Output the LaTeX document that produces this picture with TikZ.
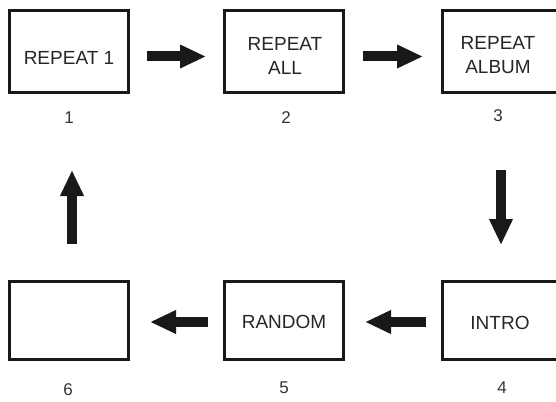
\documentclass[tikz,border=0pt]{standalone}
\usepackage{fontspec}
\setmainfont{Liberation Sans}
\usetikzlibrary{arrows.meta}
\tikzset{
  boxnode/.style={draw=black!90, line width=3pt, minimum width=119pt, inner sep=0pt},
  rowone/.style={boxnode, minimum height=82pt},
  rowtwo/.style={boxnode, minimum height=78pt},
  txt/.style={font=\fontsize{19}{24}\selectfont, align=center, inner sep=0pt, text=black!85},
  num/.style={font=\fontsize{17}{20}\selectfont, inner sep=0pt, text=black!80},
  bigarrow/.style={line width=10pt, draw=black!90, -{Triangle[width=22pt,length=26pt]}}
}
\begin{document}
\begin{tikzpicture}[x=1pt,y=-1pt]
\useasboundingbox (0,0) rectangle (556,401);
\clip (0,0) rectangle (556,401);
% boxes
\node[rowone] (b1) at (69,51.5) {};
\node[rowone] (b2) at (284,51.5) {};
\node[rowone] (b3) at (502,51.5) {};
\node[rowtwo] (b4) at (502,320.5) {};
\node[rowtwo] (b5) at (284,320.5) {};
\node[rowtwo] (b6) at (69,320.5) {};
% texts
\node[txt] (t1) at ([yshift=-6pt]b1.center) {REPEAT 1};
\node[txt] (t2) at ([yshift=-4pt,xshift=1pt]b2.center) {REPEAT\\ALL};
\node[txt] (t3) at ([yshift=-4pt,xshift=-4pt]b3.center) {REPEAT\\ALBUM};
\node[txt] (t4) at ([yshift=-2pt,xshift=-2pt]b4.center) {INTRO};
\node[txt] (t5) at ([yshift=-1.5pt]b5.center) {RANDOM};
% numbers
\node[num] (n1) at (69,118) {1};
\node[num] (n2) at (286,118) {2};
\node[num] (n3) at (498,116) {3};
\node[num] (n4) at (502,388) {4};
\node[num] (n5) at (284,388) {5};
\node[num] (n6) at (68,390) {6};
% arrows
\draw[bigarrow, shorten <=17pt, shorten >=17pt] ([yshift=-5pt]b1.east) -- ([yshift=-5pt]b2.west);
\draw[bigarrow, shorten <=18pt, shorten >=18pt] ([yshift=-5pt]b2.east) -- ([yshift=-5pt]b3.west);
\draw[bigarrow, shorten <=76pt, shorten >=35pt] ([xshift=-1pt]b3.south) -- ([xshift=-1pt]b4.north);
\draw[bigarrow, shorten <=15pt, shorten >=20pt] ([yshift=-1.5pt]b4.west) -- ([yshift=-1.5pt]b5.east);
\draw[bigarrow, shorten <=15pt, shorten >=20pt] ([yshift=-1.5pt]b5.west) -- ([yshift=-1.5pt]b6.east);
\draw[bigarrow, shorten <=36pt, shorten >=76pt] ([xshift=3pt]b6.north) -- ([xshift=3pt]b1.south);
\end{tikzpicture}
\end{document}
